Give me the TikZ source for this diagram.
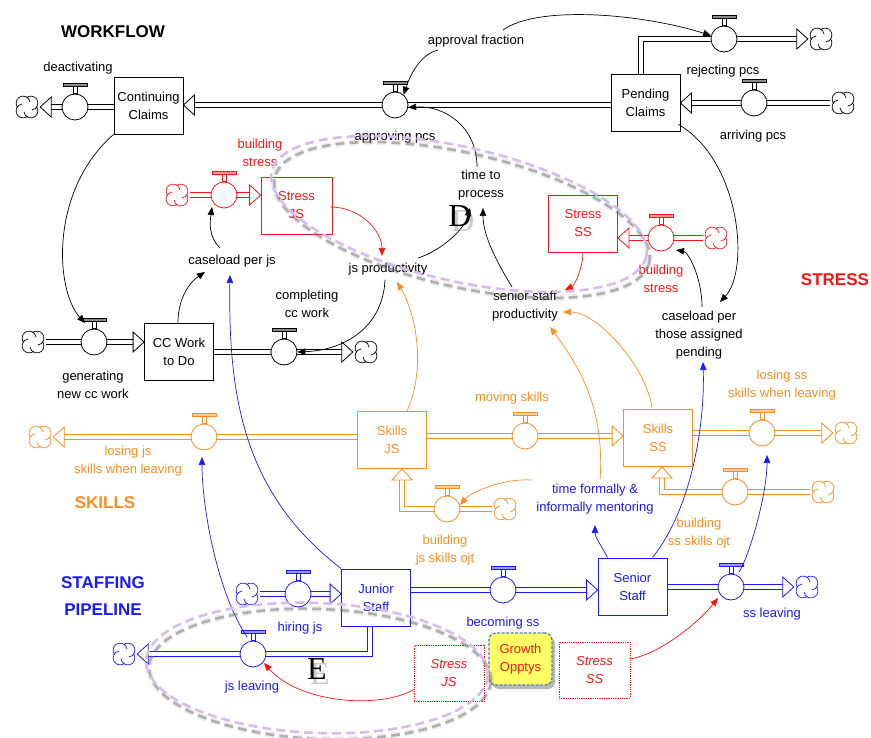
\documentclass[tikz,border=0pt]{standalone}
\usepackage{fontspec}
\setmainfont{Liberation Sans}
\newfontfamily\bigserif{Liberation Serif}
\usetikzlibrary{arrows.meta,calc,shadows,backgrounds}

\definecolor{flowred}{RGB}{250,20,20}
\definecolor{floworange}{RGB}{255,140,30}
\definecolor{flowblue}{RGB}{25,25,250}
\definecolor{lav}{RGB}{214,188,240}
\definecolor{haze}{RGB}{105,105,105}
\definecolor{noteyellow}{RGB}{255,255,102}
\definecolor{noteedge}{RGB}{80,130,190}

\tikzset{
  lbl/.style={font=\fontsize{13}{18}\selectfont, align=center, inner sep=0pt},
  ttl/.style={font=\fontsize{17}{27}\selectfont\bfseries, align=center, inner sep=0pt},
  stocknode/.style={draw=#1, text=#1, fill=white, line width=0.8pt, minimum width=69pt,
    minimum height=57pt, inner sep=0pt, font=\fontsize{13}{18}\selectfont, align=center},
  ghostbox/.style={draw=flowred, text=flowred, densely dotted, line width=0.8pt, minimum width=70pt,
    minimum height=56pt, inner sep=0pt, font=\fontsize{13}{18}\selectfont\itshape, align=center},
  growth/.style={draw=noteedge, dash pattern=on 3pt off 1.5pt, line width=1.3pt, fill=noteyellow,
    rounded corners=7pt, minimum width=63pt, minimum height=52pt, inner sep=0pt, text=flowred,
    font=\fontsize{13}{18}\selectfont, align=center,
    drop shadow={shadow xshift=3pt, shadow yshift=-4pt, opacity=0.4, fill=black!70}},
  valvec/.style={circle, draw=#1, fill=white, line width=0.8pt, minimum size=26pt, inner sep=0pt},
  cloudn/.style={minimum size=26pt, inner sep=0pt},
  flowpipe/.style={draw=#1, double=white, line width=0.9pt, double distance=3.6pt},
  flowlink/.style={draw=#1, line width=0.7pt, -{Triangle[length=8pt,width=6.5pt]}},
  ovaldash/.style={dash pattern=on 9pt off 5pt, line width=2.6pt},
  bigletter/.style={font=\bigserif\fontsize{32}{32}\selectfont, inner sep=0pt},
}

% valve: circle with stem and handle bar
\newcommand\valve[3]{%
  \node[valvec=#3] (#1) at (#2) {};
  \draw[#3, fill=white, line width=0.7pt] ($(#1.north)+(-2,0)$) rectangle ($(#1.north)+(2,-7)$);
  \draw[#3, fill=#3!45, line width=0.7pt] ($(#1.north)+(-12,-7)$) rectangle ($(#1.north)+(12,-10)$);
}
% cloud: source or sink drawn as four curled lobes
\newcommand\cloud[3]{%
  \node[cloudn] (#1) at (#2) {};
  \foreach \ang in {0,90,180,270}
    \draw[#3, line width=0.7pt, shift={(#1.center)}, rotate=\ang]
      (3.9,3.9) ++(-38:7) arc[start angle=-38, end angle=172, radius=7];
}
% hollow head of a flow pipe: colour, tip, a point upstream
\newcommand\pipehead[3]{%
  \path ($(#2)!11pt!(#3)$) coordinate (phb);
  \draw[#1, fill=white, line width=0.8pt, line join=miter]
    (#2) -- ($(phb)!10pt!90:(#2)$) -- ($(phb)!10pt!-90:(#2)$) -- cycle;
}
% straight flow pipe: colour, from, to
\newcommand\straightpipe[3]{%
  \path ($(#3)!11pt!(#2)$) coordinate (pht);
  \draw[flowpipe=#1] (#2) -- (pht);
  \pipehead{#1}{#3}{#2}%
}

\begin{document}
\begin{tikzpicture}[x=1pt,y=-1pt]
\useasboundingbox (0,0) rectangle (871,738);

% ---------------- workflow ----------------
\node[ttl] (twork) at (113,32) {WORKFLOW};
\node[stocknode=black] (cc) at (148.5,105.5) {Continuing\\Claims};
\node[stocknode=black] (pc) at (645.5,102.5) {Pending\\Claims};
\node[stocknode=black] (ccw) at (179,351.5) {CC Work\\to Do};
\cloud{cdeact}{27,107}{black}
\valve{vdeact}{75,107}{black}
\node[lbl] (ldeact) at (78,68) {deactivating};
\valve{vapp}{395,105}{black}
\node[lbl] (lapp) at (395,137) {approving pcs};
\valve{vrej}{724,39}{black}
\cloud{crej}{821,39}{black}
\node[lbl] (lrej) at (723,71) {rejecting pcs};
\valve{varr}{754,103}{black}
\cloud{carr}{843,103}{black}
\node[lbl] (larr) at (753,136) {arriving pcs};
\node[lbl] (af) at (476,41) {approval fraction};
\node[lbl] (tp) at (481,185) {time to\\process};
\node[lbl] (jsp) at (388,269) {js productivity};
\node[lbl] (ssp) at (525,306) {senior staff\\productivity};
\node[lbl] (cptp) at (699,335) {caseload per\\those assigned\\pending};
\node[lbl] (cpj) at (232,261) {caseload per js};
\valve{vgen}{94,342}{black}
\cloud{cgen}{33,342}{black}
\node[lbl] (lgen) at (93,385) {generating\\new cc work};
\valve{vcomp}{284,352}{black}
\cloud{ccomp}{366,352}{black}
\node[lbl] (lcomp) at (307,304) {completing\\cc work};

% ---------------- stress ----------------
\node[ttl, text=flowred] (tstress) at (835,280) {STRESS};
\node[stocknode=flowred, minimum width=71pt] (sjs) at (296.5,205.5) {Stress\\JS};
\valve{vbsj}{224,195}{flowred}
\cloud{cbsj}{177,195}{flowred}
\node[lbl, text=flowred] (lbsj) at (260,153) {building\\stress};
\node[stocknode=flowred] (sss) at (583,223.5) {Stress\\SS};
\valve{vbss}{661,238}{flowred}
\cloud{cbss}{716,238}{flowred}
\node[lbl, text=flowred] (lbss) at (661,279) {building\\stress};

% ---------------- skills ----------------
\node[ttl, text=floworange] (tskills) at (105,503) {SKILLS};
\node[stocknode=floworange] (skjs) at (392,440) {Skills\\JS};
\node[stocknode=floworange] (skss) at (658,438) {Skills\\SS};
\valve{vljs}{204,437}{floworange}
\cloud{cljs}{40,437}{floworange}
\node[lbl, text=floworange] (lljs) at (128,461) {losing js\\skills when leaving};
\valve{vmov}{525,436}{floworange}
\node[lbl, text=floworange] (lmov) at (512,398) {moving skills};
\valve{vlss}{762,433}{floworange}
\cloud{clss}{846,433}{floworange}
\node[lbl, text=floworange] (llss) at (782,385) {losing ss\\skills when leaving};
\valve{vbjs}{447,509}{floworange}
\cloud{cbjs}{505,509}{floworange}
\node[lbl, text=floworange] (lbjs) at (445,550) {building\\js skills ojt};
\valve{vbsk}{735,492}{floworange}
\cloud{cbsk}{823,492}{floworange}
\node[lbl, text=floworange] (lbsk) at (699,533) {building\\ss skills ojt};
\node[lbl, text=flowblue] (tfm) at (595,499) {time formally \&\\informally mentoring};

% ---------------- staffing ----------------
\node[ttl, text=flowblue] (tstaff) at (103,596) {STAFFING\\PIPELINE};
\node[stocknode=flowblue] (js) at (376,597.5) {Junior\\Staff};
\node[stocknode=flowblue] (ss) at (632.5,586.5) {Senior\\Staff};
\valve{vhire}{298,594}{flowblue}
\cloud{chire}{247,594}{flowblue}
\node[lbl, text=flowblue] (lhire) at (300,628) {hiring js};
\valve{vjsl}{253,654}{flowblue}
\cloud{cjsl}{124,654}{flowblue}
\node[lbl, text=flowblue] (ljsl) at (252,687) {js leaving};
\valve{vbec}{503,590}{flowblue}
\node[lbl, text=flowblue] (lbec) at (503,623) {becoming ss};
\valve{vssl}{731,587}{flowblue}
\cloud{cssl}{807,587}{flowblue}
\node[lbl, text=flowblue] (lssl) at (772,614) {ss leaving};
\node[ghostbox] (sjs2) at (449,673.5) {Stress\\JS};
\node[ghostbox, minimum width=71pt] (sss2) at (594.5,670) {Stress\\SS};
\node[growth] (grow) at (520.5,659) {Growth\\Opptys};

% ---------------- pipes (under the valves) ----------------
\begin{scope}[on background layer]
  \fill[white] (0,0) rectangle (871,738);
  \coordinate (pA1) at (cc.west |- vdeact);
  \straightpipe{black}{pA1}{cdeact.east}
  \coordinate (pB1) at (pc.west |- vapp);
  \coordinate (pB2) at (cc.east |- vapp);
  \straightpipe{black}{pB1}{pB2}
  \coordinate (pC1) at ($(pc.north)+(-4.5,0)$);
  \path ($(crej.west)+(-11,0)$) coordinate (pC2);
  \draw[flowpipe=black] (pC1) |- (pC2);
  \pipehead{black}{crej.west}{pC2}
  \coordinate (pD2) at (pc.east |- varr);
  \straightpipe{black}{carr.west}{pD2}
  \coordinate (pG2) at (ccw.west |- vgen);
  \straightpipe{black}{cgen.east}{pG2}
  \coordinate (pH1) at (ccw.east |- vcomp);
  \straightpipe{black}{pH1}{ccomp.west}

  \coordinate (pE2) at (sjs.west |- vbsj);
  \straightpipe{flowred}{cbsj.east}{pE2}
  \coordinate (pF2) at (sss.east |- vbss);
  \straightpipe{flowred}{cbss.west}{pF2}

  \coordinate (pI1) at (skjs.west |- vljs);
  \straightpipe{floworange}{pI1}{cljs.east}
  \coordinate (pJ1) at (skjs.east |- vmov);
  \coordinate (pJ2) at (skss.west |- vmov);
  \straightpipe{floworange}{pJ1}{pJ2}
  \coordinate (pK1) at (skss.east |- vlss);
  \straightpipe{floworange}{pK1}{clss.west}
  \coordinate (pL2) at ($(skjs.south)+(10,0)$);
  \path ($(pL2)+(0,11)$) coordinate (pL3);
  \draw[flowpipe=floworange] (cbjs.west) -| (pL3);
  \pipehead{floworange}{pL2}{pL3}
  \coordinate (pM2) at ($(skss.south)+(4,0)$);
  \path ($(pM2)+(0,11)$) coordinate (pM3);
  \draw[flowpipe=floworange] (cbsk.west) -| (pM3);
  \pipehead{floworange}{pM2}{pM3}

  \coordinate (pN2) at (js.west |- vhire);
  \straightpipe{flowblue}{chire.east}{pN2}
  \coordinate (pO1) at (js.east |- vbec);
  \coordinate (pO2) at (ss.west |- vbec);
  \straightpipe{flowblue}{pO1}{pO2}
  \coordinate (pQ1) at (ss.east |- vssl);
  \straightpipe{flowblue}{pQ1}{cssl.west}
  \coordinate (pP1) at ($(js.south)+(-6,0)$);
  \path ($(cjsl.east)+(11,0)$) coordinate (pP2);
  \draw[flowpipe=flowblue] (pP1) |- (pP2);
  \pipehead{flowblue}{cjsl.east}{pP2}
\end{scope}

% ---------------- information links ----------------
\draw[flowlink=black] ($(af.center)+(-38,9)$) .. controls +(-20,5) and +(5,-15) .. (vapp.50);
\draw[flowlink=black] ($(af.center)+(27,-11)$) .. controls +(35,-25) and +(-70,-22) .. (vrej.165);
\draw[flowlink=black] ($(tp.center)+(-4,-18)$) .. controls +(0,-40) and +(37,-2) .. (vapp.-10);
\draw[flowlink=black] ($(jsp.center)+(30,-11)$) .. controls +(25,-8) and +(-5,20) .. ($(tp.center)+(-11,23)$);
\draw[flowlink=black] ($(ssp.center)+(-13,-19)$) .. controls +(-12,-20) and +(0,30) .. ($(tp.center)+(2,23)$);
\draw[flowlink=black] ($(jsp.center)+(-3,11)$) .. controls +(-2,45) and +(50,-2) .. (vcomp.east);
\draw[flowlink=black] ($(ccw.north)+(-1,0)$) .. controls +(0,-25) and +(-15,10) .. ($(cpj.center)+(-27,11)$);
\draw[flowlink=black] ($(cpj.center)+(-12,-13)$) .. controls +(-12,-12) and +(-2,15) .. ($(vbsj.center)+(-12,12)$);
\draw[flowlink=black] (cc.south west) .. controls +(-64,56) and +(-30,-33) .. ($(vgen.center)+(-9,-19)$);
\draw[flowlink=black] ($(pc.south east)+(-2,-7)$) .. controls +(62,36) and +(30,-32) .. ($(cptp.center)+(21,-33)$);
\draw[flowlink=black] ($(cptp.center)+(3,-28)$) .. controls +(0,-30) and +(12,2) .. ($(vbss.center)+(15,12)$);

\draw[flowlink=flowred] ($(sjs.east)+(-2,1.5)$) .. controls +(30,0) and +(0,-25) .. ($(jsp.center)+(-6,-13)$);
\draw[flowlink=flowred] (sss.south) .. controls +(0,15) and +(10,-5) .. ($(ssp.center)+(40,-16)$);
\draw[flowlink=flowred] ($(sjs2.center)+(-35,16)$) .. controls +(-35,20) and +(35,40) .. ($(vjsl.center)+(11,9)$);
\draw[flowlink=flowred] ($(sss2.center)+(35.5,-11)$) .. controls +(30,-5) and +(-20,25) .. ($(vssl.center)+(-13,11)$);

\draw[flowlink=flowblue] (js.north west) .. controls +(-96,-74) and +(-2,125) .. ($(cpj.center)+(-2,14)$);
\draw[flowlink=flowblue] ($(vjsl.center)+(-6,-17)$) .. controls +(-30,-45) and +(0,50) .. ($(vljs.center)+(-2,20)$);
\draw[flowlink=flowblue] ($(ss.center)+(-25,-29)$) .. controls +(-8,-15) and +(0,12) .. ($(tfm.center)+(0,26)$);
\draw[flowlink=flowblue] ($(ss.center)+(20,-29)$) .. controls +(40,-50) and +(2,60) .. ($(cptp.center)+(4,27)$);
\draw[flowlink=flowblue] ($(vssl.center)+(8,-15)$) .. controls +(10,-15) and +(0,40) .. ($(vlss.center)+(5,22)$);

\draw[flowlink=floworange] ($(skjs.center)+(15,-29)$) .. controls +(20,-45) and +(18,30) .. ($(jsp.center)+(9,13)$);
\draw[flowlink=floworange] ($(skss.center)+(-6,-30)$) .. controls +(-5,-40) and +(35,0) .. ($(ssp.center)+(38,6)$);
\draw[flowlink=floworange] ($(tfm.center)+(5,-19)$) .. controls +(5,-70) and +(30,40) .. ($(ssp.center)+(25,21)$);
\draw[flowlink=floworange] ($(tfm.center)+(-63,-19)$) .. controls +(-30,-2) and +(10,-12) .. ($(vbjs.center)+(13,-4)$);

% ---------------- highlighted loops D and E ----------------
\node[bigletter, text=haze, opacity=0.35] at (463,221) {D};
\node[bigletter, text=haze, opacity=0.35] at (320,674) {E};
\node[bigletter] (markD) at (460,216) {D};
\node[bigletter] (markE) at (317,669) {E};

\begin{scope}[shift={(462,220)}, rotate=-12.8]
  \draw[haze, opacity=0.12, ovaldash, line width=6pt] (0,0) ellipse [x radius=192, y radius=67];
  \draw[haze, opacity=0.45, ovaldash] (0,0) ellipse [x radius=192, y radius=67];
\end{scope}
\begin{scope}[shift={(459,214)}, rotate=-12.8]
  \draw[lav, ovaldash] (0,0) ellipse [x radius=192, y radius=67];
\end{scope}
\begin{scope}[shift={(320,674)}, rotate=-2.4]
  \draw[haze, opacity=0.12, ovaldash, line width=6pt] (0,0) ellipse [x radius=171, y radius=65];
  \draw[haze, opacity=0.45, ovaldash] (0,0) ellipse [x radius=171, y radius=65];
\end{scope}
\begin{scope}[shift={(317,668)}, rotate=-2.4]
  \draw[lav, ovaldash] (0,0) ellipse [x radius=171, y radius=65];
\end{scope}
\end{tikzpicture}
\end{document}
